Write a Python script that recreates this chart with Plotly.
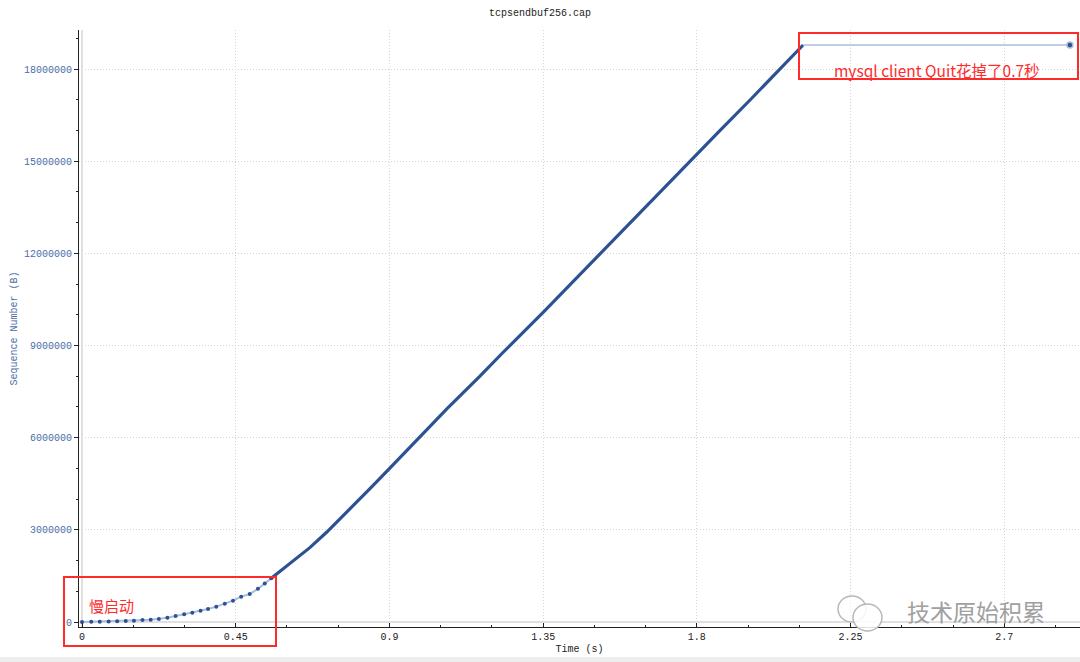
import plotly.graph_objects as go

# ---- data ----
slow_t = [0.0, 0.027, 0.052, 0.078, 0.103, 0.128, 0.152, 0.177, 0.201, 0.225, 0.250,
          0.274, 0.299, 0.323, 0.347, 0.369, 0.393, 0.418, 0.442, 0.466, 0.491, 0.515,
          0.535, 0.554]
slow_seq = [0, 8000, 10000, 14000, 23000, 33000, 43000, 65000, 76000, 98000, 140000,
            195000, 250000, 304000, 369000, 423000, 499000, 597000, 694000, 825000,
            911000, 1080000, 1250000, 1420000]

bulk_t = [0.554, 0.619, 0.667, 0.716, 0.775, 0.843, 0.902, 0.970, 1.068,
          1.165, 1.233, 1.350, 1.438, 1.526, 1.638, 1.692, 1.751, 1.799, 1.868,
          1.960, 2.111]
bulk_seq = [1420000, 2000000, 2420000, 2920000, 3570000, 4340000, 5020000, 5800000,
            6940000, 8000000, 8780000, 10080000, 11090000, 12110000, 13380000, 14000000,
            14680000, 15230000, 16000000, 17040000, 18781000]

quit_t = [2.111, 2.892]
quit_seq = [18781000, 18781000]

x_ticks = [0, 0.45, 0.9, 1.35, 1.8, 2.25, 2.7]
x_ticklabels = ["0", "0.45", "0.9", "1.35", "1.8", "2.25", "2.7"]
y_ticks = [0, 3000000, 6000000, 9000000, 12000000, 15000000, 18000000]
y_ticklabels = ["0", "3000000", "6000000", "9000000", "12000000", "15000000", "18000000"]

DARK = "rgb(44,82,148)"
LIGHT = "rgb(170,190,220)"
RED = "#ff2b2b"
MONO = "Liberation Mono, DejaVu Sans Mono, monospace"

fig = go.Figure()
fig.add_trace(go.Scatter(x=slow_t, y=slow_seq, mode="lines+markers",
                         line=dict(color=LIGHT, width=2),
                         marker=dict(color=DARK, size=4), showlegend=False))
fig.add_trace(go.Scatter(x=bulk_t, y=bulk_seq, mode="lines",
                         line=dict(color=DARK, width=3.2), showlegend=False))
fig.add_trace(go.Scatter(x=quit_t, y=quit_seq, mode="lines",
                         line=dict(color=LIGHT, width=1.5), showlegend=False))
fig.add_trace(go.Scatter(x=quit_t[-1:], y=quit_seq[-1:], mode="markers",
                         marker=dict(color=DARK, size=6, line=dict(color=LIGHT, width=1.5)),
                         showlegend=False))

L, T, B = 79, 30, 35
W, H = 1080, 662
pw, ph = W - L, H - T - B


def px(x):
    return (x - L) / pw


def py(y):
    return (H - B - y) / ph


shapes = [
    dict(type="rect", xref="paper", yref="paper", x0=px(64), x1=px(276), y0=py(646), y1=py(577),
         line=dict(color=RED, width=2)),
    dict(type="rect", xref="paper", yref="paper", x0=px(799), x1=px(1078), y0=py(79), y1=py(33),
         line=dict(color=RED, width=2)),
    # watermark logo bubbles
    dict(type="circle", xref="paper", yref="paper", x0=px(838), x1=px(866), y0=py(622), y1=py(596),
         line=dict(color="#b8b8b8", width=1.5), fillcolor="rgba(255,255,255,0.6)"),
    dict(type="circle", xref="paper", yref="paper", x0=px(853), x1=px(882), y0=py(631), y1=py(604),
         line=dict(color="#b8b8b8", width=1.5), fillcolor="rgba(255,255,255,0.85)"),
    # bottom grey band
    dict(type="rect", xref="paper", yref="paper", x0=px(0), x1=px(1080), y0=py(662), y1=py(657),
         line=dict(width=0), fillcolor="#eeeeee", layer="below"),
]

annotations = [
    dict(text="慢启动", xref="paper", yref="paper", x=px(87), y=py(605), xanchor="left",
         yanchor="middle", showarrow=False,
         font=dict(family="Noto Sans CJK SC", size=15, color=RED)),
    dict(text="mysql client Quit花掉了0.7秒", xref="paper", yref="paper", x=px(937), y=py(70),
         xanchor="center", yanchor="middle", showarrow=False,
         font=dict(family="Noto Sans CJK SC", size=15.5, color=RED)),
    dict(text="技术原始积累", xref="paper", yref="paper", x=px(976), y=py(611),
         xanchor="center", yanchor="middle", showarrow=False,
         font=dict(family="Noto Sans CJK SC", size=23, color="#a0a0a0")),
]

fig.update_layout(
    width=W, height=H,
    margin=dict(l=L, r=0, t=T, b=B, pad=0, autoexpand=False),
    paper_bgcolor="white", plot_bgcolor="white",
    title=dict(text="tcpsendbuf256.cap", x=0.5, xanchor="center", y=1 - 12 / H, yanchor="middle",
               font=dict(family=MONO, size=10, color="#222")),
    shapes=shapes, annotations=annotations,
    xaxis=dict(range=[-0.0088, 2.9216], tickvals=x_ticks, ticktext=x_ticklabels,
               showline=True, linecolor="#222", linewidth=1, mirror=False,
               ticks="inside", ticklen=4, tickcolor="#222",
               minor=dict(dtick=0.15, tick0=0, ticks="inside", ticklen=2, tickcolor="#222", showgrid=False),
               showgrid=True, gridcolor="#d4d4d4", griddash="1px,2px", gridwidth=1,
               zeroline=True, zerolinecolor="#e0e0e0", zerolinewidth=2,
               tickfont=dict(family=MONO, size=10, color="#222"),
               title=dict(text="Time (s)", font=dict(family=MONO, size=10, color="#222"), standoff=2)),
    yaxis=dict(range=[-162750, 19269600], tickvals=y_ticks, ticktext=y_ticklabels,
               showline=True, linecolor="#222", linewidth=1,
               ticks="outside", ticklen=4, tickcolor="#222",
               minor=dict(dtick=1000000, tick0=0, ticks="outside", ticklen=2, tickcolor="#222", showgrid=False),
               showgrid=True, gridcolor="#d4d4d4", griddash="1px,2px", gridwidth=1,
               zeroline=True, zerolinecolor="#e0e0e0", zerolinewidth=2,
               tickfont=dict(family=MONO, size=10, color="#4a6ea8"),
               title=dict(text="Sequence Number (B)", font=dict(family=MONO, size=10, color="#4a6ea8"),
                          standoff=4)),
)

fig.write_html("out.html", config={"displayModeBar": False},
               post_script="document.body.style.margin='0';document.body.style.overflow='hidden';")
